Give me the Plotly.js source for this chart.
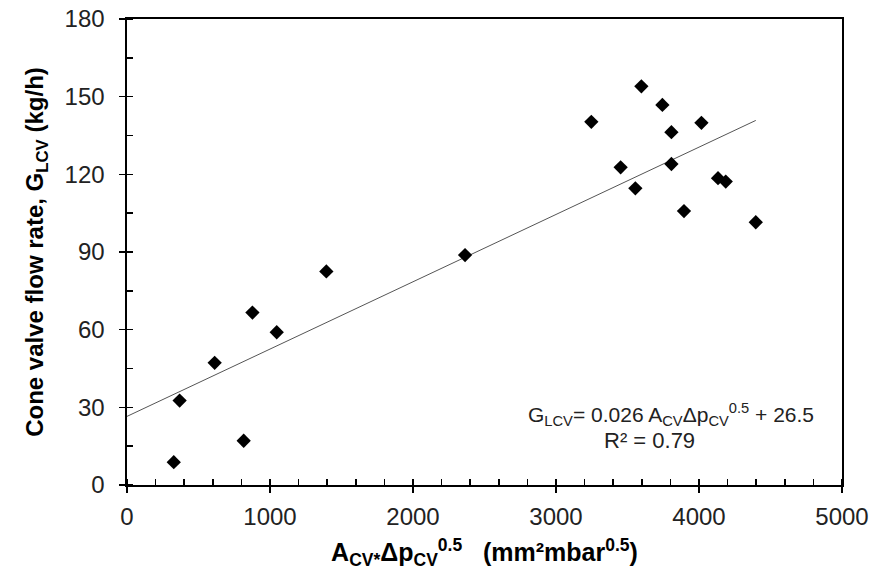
<!DOCTYPE html>
<html>
<head>
<meta charset="utf-8">
<script src="https://cdn.plot.ly/plotly-3.0.1.min.js"></script>
<style>html,body{margin:0;padding:0;background:#fff;}#chart{width:873px;height:578px;}</style>
</head>
<body>
<div id="chart"></div>
<script>
// Data
const xValues = [327, 368, 613, 816, 877, 1047, 1394, 2364, 3247, 3452, 3555, 3597, 3744, 3807, 3807, 3895, 4017, 4133, 4187, 4397];
const yValues = [8.8, 32.6, 47.2, 17.1, 66.6, 59.0, 82.5, 88.8, 140.3, 122.7, 114.6, 154.0, 146.8, 136.3, 124.0, 105.8, 139.9, 118.5, 117.2, 101.5];
const fitSlope = 0.026;
const fitIntercept = 26.5;
const xTickVals = [0, 1000, 2000, 3000, 4000, 5000];
const yTickVals = [0, 30, 60, 90, 120, 150, 180];
const eqText = 'G<sub>LCV</sub>= 0.026 A<sub>CV</sub>Δp<sub>CV</sub><sup>0.5</sup> + 26.5';
const r2Text = 'R² = 0.79';
const xTitle = '<b>A<sub>CV*</sub>Δp<sub>CV</sub><sup>0.5</sup>   (mm²mbar<sup>0.5</sup>)</b>';
const yTitle = '<b>Cone valve flow rate, G<sub>LCV</sub> (kg/h)</b>';

const xMax = Math.max(...xValues);
const fitX = [0, xMax];
const fitY = fitX.map(v => fitSlope * v + fitIntercept);

const font = 'Arial, "Liberation Sans", sans-serif';

const traces = [
  {x: fitX, y: fitY, mode: 'lines', line: {color: '#555', width: 1}, hoverinfo: 'skip', showlegend: false},
  {x: xValues, y: yValues, mode: 'markers', marker: {symbol: 'diamond', size: 11, color: '#000'}, showlegend: false},
  // overlay trace giving inside tick marks at major positions (crossing ticks)
  {x: [0], y: [0], xaxis: 'x2', yaxis: 'y2', mode: 'markers', marker: {opacity: 0}, hoverinfo: 'skip', showlegend: false}
];

const layout = {
  width: 873, height: 578,
  margin: {l: 127, r: 31, t: 19, b: 93},
  paper_bgcolor: '#fff', plot_bgcolor: '#fff',
  font: {family: font, color: '#000', size: 24},
  xaxis: {
    range: [0, 5000], tickvals: xTickVals, ticktext: xTickVals.map(String),
    showgrid: false, zeroline: false, showline: true, linecolor: '#000', linewidth: 1.6,
    mirror: true, ticks: 'outside', ticklen: 6, tickwidth: 1.5, tickcolor: '#000',
    minor: {dtick: 200, tick0: 0, ticks: 'inside', ticklen: 6, tickwidth: 1.5, tickcolor: '#000', showgrid: false},
    tickfont: {size: 24, family: font, color: '#222'},
    ticklabelstandoff: 4,
    title: {text: xTitle, font: {size: 25, family: font, color: '#000'}, standoff: 14},
    fixedrange: true
  },
  yaxis: {
    range: [0, 180], tickvals: yTickVals, ticktext: yTickVals.map(String),
    showgrid: false, zeroline: false, showline: true, linecolor: '#000', linewidth: 1.6,
    mirror: true, ticks: 'outside', ticklen: 6, tickwidth: 1.5, tickcolor: '#000',
    minor: {dtick: 15, tick0: 0, ticks: 'inside', ticklen: 6, tickwidth: 1.5, tickcolor: '#000', showgrid: false},
    tickfont: {size: 24, family: font, color: '#222'},
    ticklabelstandoff: 10,
    title: {text: yTitle, font: {size: 24, family: font, color: '#000'}, standoff: 14},
    fixedrange: true
  },
  xaxis2: {overlaying: 'x', range: [0, 5000], tickvals: xTickVals, showticklabels: false, ticks: 'inside', ticklen: 6, tickwidth: 1.5, tickcolor: '#000', showgrid: false, zeroline: false, showline: false, side: 'bottom', fixedrange: true},
  yaxis2: {overlaying: 'y', range: [0, 180], tickvals: yTickVals, showticklabels: false, ticks: 'inside', ticklen: 6, tickwidth: 1.5, tickcolor: '#000', showgrid: false, zeroline: false, showline: false, side: 'left', fixedrange: true},
  annotations: [
    {xref: 'x', yref: 'y', x: 3802, y: 27.4, text: eqText, showarrow: false, font: {size: 21, family: font, color: '#222'}, xanchor: 'center', yanchor: 'middle'},
    {xref: 'x', yref: 'y', x: 3652, y: 17.0, text: r2Text, showarrow: false, font: {size: 22, family: font, color: '#222'}, xanchor: 'center', yanchor: 'middle'}
  ]
};

Plotly.newPlot('chart', traces, layout, {displayModeBar: false, staticPlot: true});
</script>
</body>
</html>
